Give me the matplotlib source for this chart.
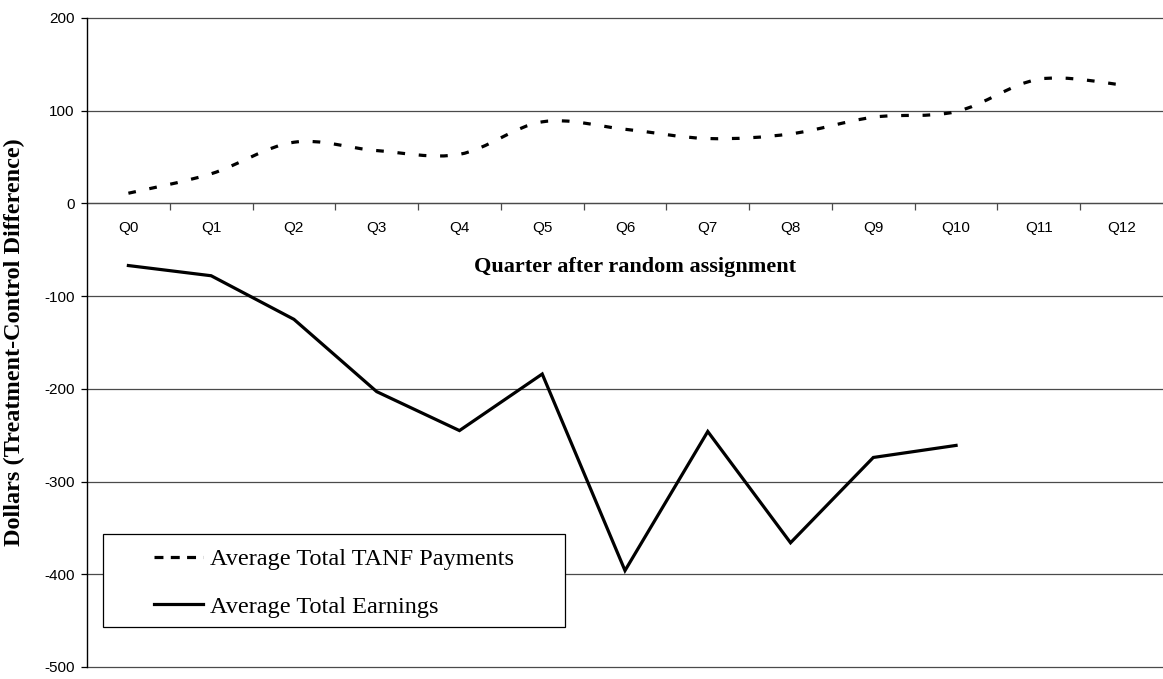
import matplotlib
matplotlib.use("Agg")
import matplotlib.pyplot as plt
from matplotlib.path import Path
from matplotlib.patches import PathPatch, Rectangle
from matplotlib.lines import Line2D
import numpy as np

plt.rcParams["axes.unicode_minus"] = False

quarters = ["Q0", "Q1", "Q2", "Q3", "Q4", "Q5", "Q6", "Q7", "Q8", "Q9", "Q10", "Q11", "Q12"]
tanf = [11, 32, 66, 57, 53, 88, 80, 70, 75, 93, 99, 134, 128]
earnings = [-67, -78, -125, -203, -245, -184, -396, -246, -366, -274, -261]

SANS = "Liberation Sans"
SERIF = "Liberation Serif"

W, H = 1163, 679
AX_L, AX_R, AX_T, AX_B = 87, 1163, 18, 667

fig = plt.figure(figsize=(W / 100, H / 100), dpi=100)
ax = fig.add_axes([AX_L / W, 1 - AX_B / H, (AX_R - AX_L) / W, (AX_B - AX_T) / H])


def ax_frac(px, py):
    return (px - AX_L) / (AX_R - AX_L), (AX_B - py) / (AX_B - AX_T)


ax.set_xlim(-0.5, len(quarters) - 0.5)
ax.set_ylim(-500, 200)

ax.set_yticks(np.arange(-500, 201, 100))
ax.yaxis.grid(True, color="#4a4a4a", linewidth=0.9)
ax.set_axisbelow(True)
for gl in ax.get_ygridlines():
    gl.set_clip_on(False)

for s in ["top", "right"]:
    ax.spines[s].set_visible(False)
ax.spines["left"].set_color("black")
ax.spines["left"].set_linewidth(1.0)
ax.spines["left"].set_zorder(3)
ax.spines["bottom"].set_position(("data", 0))
ax.spines["bottom"].set_color("#4a4a4a")
ax.spines["bottom"].set_linewidth(0.9)

xs = np.arange(len(quarters))
ax.set_xticks(xs[:-1] + 0.5)
ax.set_xticklabels([])
ax.set_xticks(xs, minor=True)
ax.set_xticklabels(quarters, minor=True, fontfamily=SANS, fontsize=11)
ax.tick_params(axis="x", which="major", direction="out", length=5, width=0.9, color="#4a4a4a")
ax.tick_params(axis="x", which="minor", length=0, pad=13)
ax.tick_params(axis="y", direction="out", length=4, width=0.9, pad=5)
for lab in ax.get_yticklabels():
    lab.set_fontfamily(SANS)
    lab.set_fontsize(11)

# smoothed TANF curve (Catmull-Rom style Bezier through the data points)
P = np.column_stack([xs, np.array(tanf, dtype=float)])
n = len(P)
verts = [tuple(P[0])]
codes = [Path.MOVETO]
for i in range(n - 1):
    p0 = P[i - 1] if i > 0 else P[i]
    p1 = P[i]
    p2 = P[i + 1]
    p3 = P[i + 2] if i + 2 < n else P[i + 1]
    c1 = p1 + (p2 - p0) / 6.0
    c2 = p2 - (p3 - p1) / 6.0
    verts += [tuple(c1), tuple(c2), tuple(p2)]
    codes += [Path.CURVE4] * 3
patch = PathPatch(Path(verts, codes), fill=False, edgecolor="black", linewidth=2.3,
                  linestyle=(0, (2.4, 4.3)), capstyle="butt")
ax.add_patch(patch)

ax.plot(xs[:len(earnings)], earnings, color="black", linewidth=2.3, solid_joinstyle="miter")

ax.set_ylabel("Dollars (Treatment-Control Difference)", fontfamily=SERIF, fontsize=17.5,
              fontweight="bold")
ax.yaxis.set_label_coords(-0.058, 0.5)
ax.set_xlabel("Quarter after random assignment", fontfamily=SERIF, fontsize=16,
              fontweight="bold")
ax.xaxis.set_label_coords(0.509, 0.632)

# legend frame
x0, y0 = ax_frac(103, 627)
x1, y1 = ax_frac(565, 534)
ax.add_patch(Rectangle((x0, y0), x1 - x0, y1 - y0, transform=ax.transAxes,
                       facecolor="white", edgecolor="black", linewidth=0.9, zorder=4))

handles = [
    Line2D([], [], color="black", linewidth=2.3, linestyle=(0, (2.8, 2.3))),
    Line2D([], [], color="black", linewidth=2.3),
]
lx, ly = ax_frac(154, 548)
leg = ax.legend(handles, ["Average Total TANF Payments", "Average Total Earnings"],
                loc="upper left", bbox_to_anchor=(lx, ly),
                prop={"family": SERIF, "size": 17.5}, frameon=False,
                handlelength=2.0, handletextpad=0.3, labelspacing=1.05,
                borderpad=0.0, borderaxespad=0)
leg.set_zorder(5)

fig.savefig("out.png", dpi=100)
